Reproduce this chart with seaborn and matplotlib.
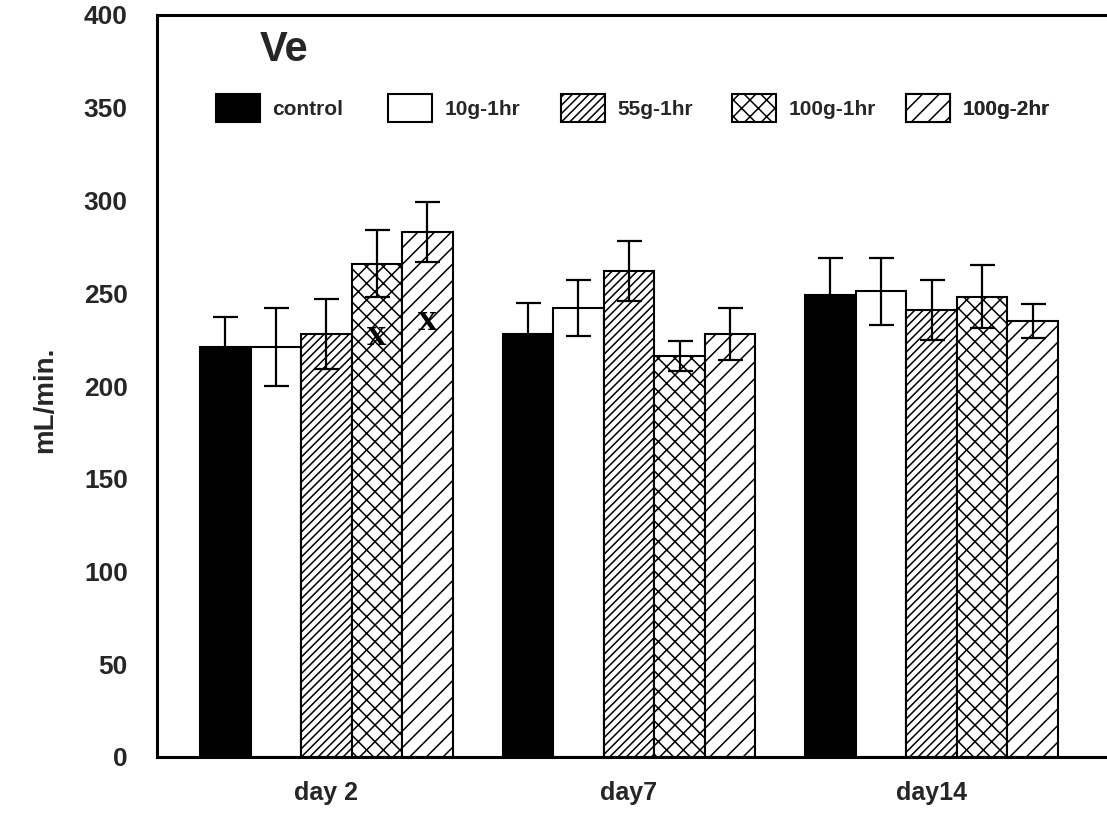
import numpy as np
import pandas as pd
import matplotlib
matplotlib.use("Agg")
import matplotlib.pyplot as plt
import seaborn as sns

# Minute ventilation (Ve) by exposure group and day, mean ± error
days = ["day 2", "day7", "day14"]
groups = ["control", "10g-1hr", "55g-1hr", "100g-1hr", "100g-2hr"]

control = [221, 228, 249]
g10_1hr = [221, 242, 251]
g55_1hr = [228, 262, 241]
g100_1hr = [266, 216, 248]
g100_2hr = [283, 228, 235]

control_err = [16, 17, 20]
g10_1hr_err = [21, 15, 18]
g55_1hr_err = [19, 16, 16]
g100_1hr_err = [18, 8, 17]
g100_2hr_err = [16, 14, 9]

yticks = [0, 50, 100, 150, 200, 250, 300, 350, 400]

# significance marks on day 2 (group index, label y value)
sig_groups = [3, 4]
sig_y = [226, 234]

values = [control, g10_1hr, g55_1hr, g100_1hr, g100_2hr]
errors = [control_err, g10_1hr_err, g55_1hr_err, g100_1hr_err, g100_2hr_err]

df = pd.DataFrame(
    [(d, g, values[gi][di]) for gi, g in enumerate(groups) for di, d in enumerate(days)],
    columns=["day", "group", "value"],
)

sns.set_style("white")
plt.rcParams["font.family"] = ["Liberation Sans", "DejaVu Sans"]
plt.rcParams["font.weight"] = "bold"
plt.rcParams["hatch.linewidth"] = 1.1
plt.rcParams["hatch.color"] = "black"

fig = plt.figure(figsize=(11.07, 8.15), dpi=100)
ax = fig.add_axes([157 / 1107, 58 / 815, 950 / 1107, 742 / 815])

faces = ["black", "white", "white", "white", "white"]
hatches = [None, None, "////", "xx", "//"]

sns.barplot(
    data=df, x="day", y="value", hue="group", order=days, hue_order=groups,
    palette=faces, width=0.835, gap=0, errorbar=None, edgecolor="black",
    linewidth=1.5, saturation=1, legend=False, ax=ax,
)

for cont, h, fc in zip(ax.containers, hatches, faces):
    for p in cont:
        p.set_facecolor(fc)
        p.set_edgecolor("black")
        if h:
            p.set_hatch(h)

for cont, vals, errs in zip(ax.containers, values, errors):
    xs = [p.get_x() + p.get_width() / 2 for p in cont]
    ax.errorbar(xs, vals, yerr=errs, fmt="none", ecolor="black",
                elinewidth=1.6, capsize=9, capthick=1.6, zorder=5)

for gi, yv in zip(sig_groups, sig_y):
    p = ax.containers[gi][0]
    ax.text(p.get_x() + p.get_width() / 2, yv, "X", ha="center", va="center",
            fontsize=18, fontweight="bold", family=["DejaVu Serif"],
            color="black", zorder=6)

ax.set_ylim(0, 400)
ax.set_xlim(-0.56, 2.58)
ax.set_yticks(yticks)
ax.set_yticklabels([str(t) for t in yticks], fontsize=19, fontweight="bold")
ax.tick_params(axis="y", direction="in", length=9.5, width=1.8, pad=21)
ax.tick_params(axis="x", length=0, pad=17, labelsize=18)
for lab in ax.get_xticklabels():
    lab.set_fontweight("bold")
ax.set_xlabel("")
ax.set_ylabel("")

for side in ["left", "bottom", "top"]:
    ax.spines[side].set_visible(True)
    ax.spines[side].set_linewidth(2.2)
    ax.spines[side].set_color("black")
ax.spines["right"].set_visible(False)

fig.text(45 / 1107, 1 - 400 / 815, "mL/min.", rotation=90, ha="center", va="center",
         fontsize=20, fontweight="bold")
fig.text(260 / 1107, 1 - 50 / 815, "Ve", ha="left", va="center",
         fontsize=30, fontweight="bold")

# legend entries laid out at even spacing along one row
legend_x = [216, 388, 561, 732, 906]
for cont, g, lx in zip(ax.containers, groups, legend_x):
    leg = ax.legend([cont], [g], loc="center left",
                    bbox_to_anchor=(lx / 1107, 1 - 108 / 815),
                    bbox_transform=fig.transFigure, frameon=False,
                    fontsize=15, handlelength=2.1, handleheight=1.75,
                    handletextpad=0.6, borderpad=0, borderaxespad=0)
    for t in leg.get_texts():
        t.set_fontweight("bold")
    ax.add_artist(leg)

fig.savefig("out.png", dpi=100)
